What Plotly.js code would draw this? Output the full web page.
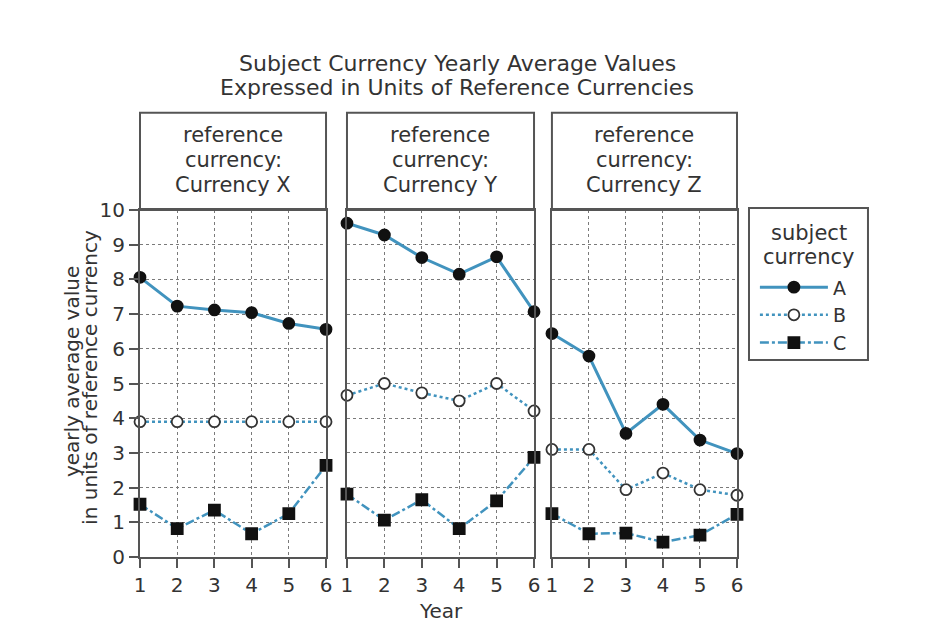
<!DOCTYPE html>
<html>
<head>
<meta charset="utf-8">
<script src="https://cdn.plot.ly/plotly-3.0.1.min.js"></script>
<style>html,body{margin:0;padding:0;background:#fff;}#chart{width:939px;height:632px;}</style>
</head>
<body>
<div id="chart"></div>
<script>
// ---- data ----
const years = [1, 2, 3, 4, 5, 6];
const referenceCurrencies = ['Currency X', 'Currency Y', 'Currency Z'];
const subjectNames = ['A', 'B', 'C'];

// values of subject currencies in units of reference Currency X
const refX_A = [8.06, 7.23, 7.12, 7.04, 6.73, 6.56];
const refX_B = [3.90, 3.90, 3.90, 3.90, 3.90, 3.90];
const refX_C = [1.52, 0.82, 1.35, 0.67, 1.25, 2.64];
// in units of reference Currency Y
const refY_A = [9.62, 9.28, 8.63, 8.15, 8.65, 7.07];
const refY_B = [4.66, 5.00, 4.73, 4.50, 5.00, 4.21];
const refY_C = [1.81, 1.06, 1.65, 0.82, 1.62, 2.87];
// in units of reference Currency Z
const refZ_A = [6.44, 5.79, 3.56, 4.40, 3.37, 2.98];
const refZ_B = [3.10, 3.10, 1.94, 2.42, 1.94, 1.78];
const refZ_C = [1.25, 0.67, 0.69, 0.43, 0.63, 1.23];

const yTicks = [0, 1, 2, 3, 4, 5, 6, 7, 8, 9, 10];

const titleLines = ['Subject Currency Yearly Average Values', 'Expressed in Units of Reference Currencies'];
const yTitleLines = ['yearly average value', 'in units of reference currency'];
const legendTitleLines = ['subject', 'currency'];

// ---- styles ----
const FONT = 'DejaVu Sans, Verdana, sans-serif';
const TXT = '#333333';
const LINE = '#4193be';
const FRAME = '#555555';
const styles = {
  A: {dash: 'solid', width: 3, symbol: 'circle', size: 11, fill: '#111', lineC: '#111'},
  B: {dash: 'dot', width: 2.5, symbol: 'circle', size: 11, fill: '#ffffff', lineC: '#333'},
  C: {dash: 'dashdot', width: 2.5, symbol: 'square', size: 11, fill: '#111', lineC: '#111'}
};

const panelData = [
  [refX_A, refX_B, refX_C],
  [refY_A, refY_B, refY_C],
  [refZ_A, refZ_B, refZ_C]
];

const traces = [];
panelData.forEach((series, p) => {
  series.forEach((vals, s) => {
    const name = subjectNames[s];
    const st = styles[name];
    traces.push({
      type: 'scatter', mode: 'lines+markers',
      x: years, y: vals, name: name,
      legendgroup: name, showlegend: p === 0,
      xaxis: p === 0 ? 'x' : 'x' + (p + 1),
      yaxis: p === 0 ? 'y' : 'y' + (p + 1),
      line: {color: LINE, width: st.width, dash: st.dash},
      marker: {symbol: st.symbol, size: st.size, color: st.fill, line: {color: st.lineC, width: 1.8}},
      cliponaxis: false
    });
  });
});

const domains = [[0, 0.3116], [0.3467, 0.660], [0.690, 1.0]];

function txt(size) { return {family: FONT, size: size, color: TXT}; }

const layout = {
  width: 939, height: 632,
  paper_bgcolor: '#ffffff', plot_bgcolor: '#ffffff',
  margin: {l: 140, r: 202, t: 210, b: 75},
  font: txt(20),
  showlegend: true,
  legend: {
    font: txt(19),
    x: 1.030, xanchor: 'left', y: 0.832, yanchor: 'top',
    borderwidth: 0, bgcolor: 'rgba(0,0,0,0)',
    itemwidth: 68, tracegroupgap: 0, itemclick: false
  },
  shapes: [
    {type: 'rect', xref: 'paper', yref: 'paper', x0: 1.0201, x1: 1.2194, y0: 0.5677, y1: 1.0058,
     line: {color: FRAME, width: 2}, fillcolor: 'rgba(0,0,0,0)'}
  ],
  annotations: [
    {text: titleLines[0], xref: 'paper', yref: 'paper', x: 0.531, y: 1.4236, xanchor: 'center', yanchor: 'middle', showarrow: false, font: txt(22)},
    {text: titleLines[1], xref: 'paper', yref: 'paper', x: 0.531, y: 1.3516, xanchor: 'center', yanchor: 'middle', showarrow: false, font: txt(22)},
    {text: 'Year', xref: 'paper', yref: 'paper', x: 0.504, y: -0.156, xanchor: 'center', yanchor: 'middle', showarrow: false, font: txt(20)},
    {text: yTitleLines[0], xref: 'paper', yref: 'paper', x: -0.1139, y: 0.533, xanchor: 'center', yanchor: 'middle', textangle: -90, showarrow: false, font: txt(20)},
    {text: yTitleLines[1], xref: 'paper', yref: 'paper', x: -0.0838, y: 0.519, xanchor: 'center', yanchor: 'middle', textangle: -90, showarrow: false, font: txt(20)},
    {text: legendTitleLines[0], xref: 'paper', yref: 'paper', x: 1.1198, y: 0.9337, xanchor: 'center', yanchor: 'middle', showarrow: false, font: txt(21)},
    {text: legendTitleLines[1], xref: 'paper', yref: 'paper', x: 1.1198, y: 0.8646, xanchor: 'center', yanchor: 'middle', showarrow: false, font: txt(21)}
  ]
};

const headerLineY = [(557 - 135) / 347, (557 - 160) / 347, (557 - 185) / 347];

for (let p = 0; p < 3; p++) {
  const xa = p === 0 ? 'xaxis' : 'xaxis' + (p + 1);
  const ya = p === 0 ? 'yaxis' : 'yaxis' + (p + 1);
  const xid = p === 0 ? 'x' : 'x' + (p + 1);
  const yid = p === 0 ? 'y' : 'y' + (p + 1);
  layout[xa] = {
    domain: domains[p], anchor: yid, range: [1, 6], tickvals: years, ticktext: years.map(String),
    showgrid: true, gridcolor: '#7a7a7a', griddash: 'dot', gridwidth: 1,
    showline: true, mirror: true, linecolor: FRAME, linewidth: 2,
    ticks: 'outside', ticklen: 9, tickwidth: 2, tickcolor: FRAME,
    tickfont: txt(20), zeroline: false, fixedrange: true
  };
  layout[ya] = {
    domain: [0, 1], anchor: xid, range: [0, 10], tickvals: yTicks,
    showgrid: true, gridcolor: '#7a7a7a', griddash: 'dot', gridwidth: 1,
    showline: true, mirror: true, linecolor: FRAME, linewidth: 2,
    ticks: p === 0 ? 'outside' : '', ticklen: 9, tickwidth: 2, tickcolor: FRAME,
    showticklabels: p === 0,
    tickfont: txt(20), zeroline: false, fixedrange: true
  };
  // header boxes
  layout.shapes.push({type: 'rect', xref: xid + ' domain', yref: yid + ' domain',
    x0: 0, x1: 1, y0: 1, y1: 1.28, line: {color: FRAME, width: 2}, fillcolor: 'rgba(0,0,0,0)'});
  const headerLines = ['reference', 'currency:', referenceCurrencies[p]];
  headerLines.forEach((t, i) => {
    layout.annotations.push({text: t, xref: xid + ' domain', yref: yid + ' domain',
      x: 0.5, y: headerLineY[i], xanchor: 'center', yanchor: 'middle', showarrow: false, font: txt(21)});
  });
}

// overlay axes for the inner half of the crossing tick marks
layout.xaxis4 = {overlaying: 'x', anchor: 'y', side: 'bottom', range: [1, 6], tickvals: years,
  ticks: 'inside', ticklen: 9, tickwidth: 2, tickcolor: FRAME, showticklabels: false, showgrid: false,
  showline: false, zeroline: false, fixedrange: true};
layout.xaxis5 = Object.assign({}, layout.xaxis4, {overlaying: 'x2', anchor: 'y2'});
layout.xaxis6 = Object.assign({}, layout.xaxis4, {overlaying: 'x3', anchor: 'y3'});
layout.yaxis4 = {overlaying: 'y', anchor: 'x', side: 'left', range: [0, 10], tickvals: yTicks,
  ticks: 'inside', ticklen: 9, tickwidth: 2, tickcolor: FRAME, showticklabels: false, showgrid: false,
  showline: false, zeroline: false, fixedrange: true};

Plotly.newPlot('chart', traces, layout, {displayModeBar: false, staticPlot: true});
</script>
</body>
</html>
